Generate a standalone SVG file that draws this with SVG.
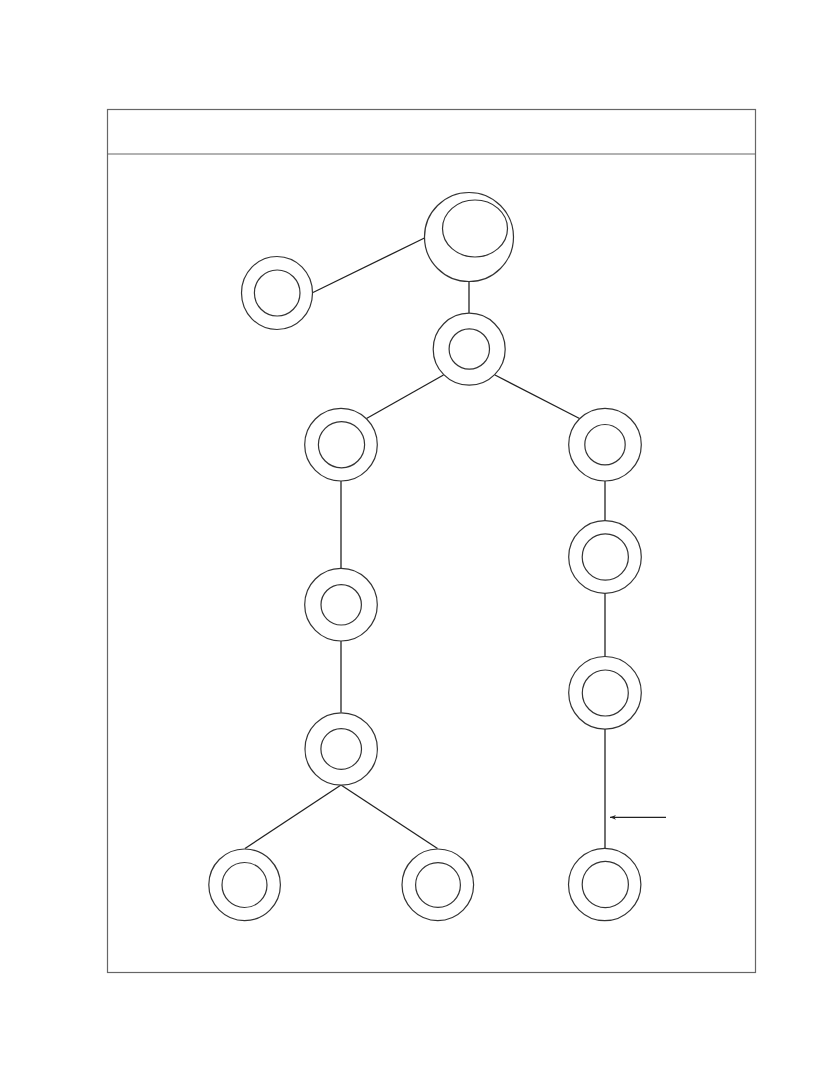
<svg xmlns="http://www.w3.org/2000/svg" width="840" height="1080" viewBox="0 0 840 1080">
<defs>
<style>
.frame{fill:none;stroke:#666;stroke-width:1.2}
.node circle,.node ellipse{fill:#fff;stroke:#333;stroke-width:1.2}
.edge{fill:none;stroke:#222;stroke-width:1.3}
</style>
<marker id="arrow" viewBox="0 0 10 10" refX="10" refY="5" markerWidth="6" markerHeight="6" orient="auto-start-reverse" markerUnits="userSpaceOnUse">
<path d="M0,1 L10,5 L0,9 L3,5 Z" fill="#222"/>
</marker>
</defs>
<rect width="840" height="1080" fill="#fff"/>
<g id="frame">
<rect class="frame" x="107.5" y="109.5" width="648" height="863"/>
<line class="frame" x1="107.5" y1="154" x2="755.5" y2="154"/>
</g>
<g id="connectors">
<line class="edge" x1="313" y1="292.5" x2="426.5" y2="237"/>
<line class="edge" x1="469" y1="281" x2="469" y2="313"/>
<line class="edge" x1="443.5" y1="375" x2="366.5" y2="418.5"/>
<line class="edge" x1="495" y1="375" x2="579.5" y2="418.5"/>
<line class="edge" x1="341" y1="481" x2="341" y2="568.5"/>
<line class="edge" x1="341" y1="641" x2="341" y2="712.5"/>
<line class="edge" x1="341" y1="785" x2="245" y2="848.5"/>
<line class="edge" x1="341" y1="785" x2="437.5" y2="848.5"/>
<line class="edge" x1="605" y1="481" x2="605" y2="521"/>
<line class="edge" x1="605" y1="593" x2="605" y2="657"/>
<line class="edge" x1="605" y1="729" x2="605" y2="848.5"/>
<line class="edge" x1="666" y1="817.3" x2="610" y2="817.3" marker-end="url(#arrow)"/>
</g>
<g id="n-top" class="node">
<circle cx="469" cy="237" r="44.5"/>
<ellipse cx="475" cy="228.5" rx="32.5" ry="28.5"/>
</g>
<g id="n-left" class="node">
<ellipse cx="277" cy="293" rx="35.5" ry="36.5"/>
<ellipse cx="277.2" cy="293" rx="22.8" ry="23"/>
</g>
<g id="n2" class="node">
<circle cx="469.2" cy="349.2" r="36"/>
<circle cx="469.3" cy="349" r="20.2"/>
</g>
<g id="n3" class="node">
<circle cx="341" cy="444.7" r="36.3"/>
<circle cx="341.5" cy="444.7" r="23.1"/>
</g>
<g id="n4" class="node">
<circle cx="605" cy="444.7" r="36.3"/>
<circle cx="605" cy="444.7" r="20.2"/>
</g>
<g id="n5" class="node">
<circle cx="341" cy="604.7" r="36.3"/>
<circle cx="341.2" cy="604.8" r="20.2"/>
</g>
<g id="n6" class="node">
<circle cx="341.2" cy="749" r="36.2"/>
<circle cx="341.2" cy="749" r="20.3"/>
</g>
<g id="n7" class="node">
<circle cx="605" cy="557" r="36.3"/>
<circle cx="605.3" cy="557" r="23.1"/>
</g>
<g id="n8" class="node">
<circle cx="605" cy="692.8" r="36.3"/>
<circle cx="605.3" cy="693" r="23"/>
</g>
<g id="n9" class="node">
<circle cx="244.6" cy="884.8" r="35.8"/>
<circle cx="244.5" cy="885" r="22.5"/>
</g>
<g id="n10" class="node">
<circle cx="437.8" cy="884.8" r="35.8"/>
<circle cx="438" cy="885" r="22.4"/>
</g>
<g id="n11" class="node">
<circle cx="604.7" cy="884.5" r="36.2"/>
<circle cx="605.3" cy="884.5" r="23.1"/>
</g>
</svg>
